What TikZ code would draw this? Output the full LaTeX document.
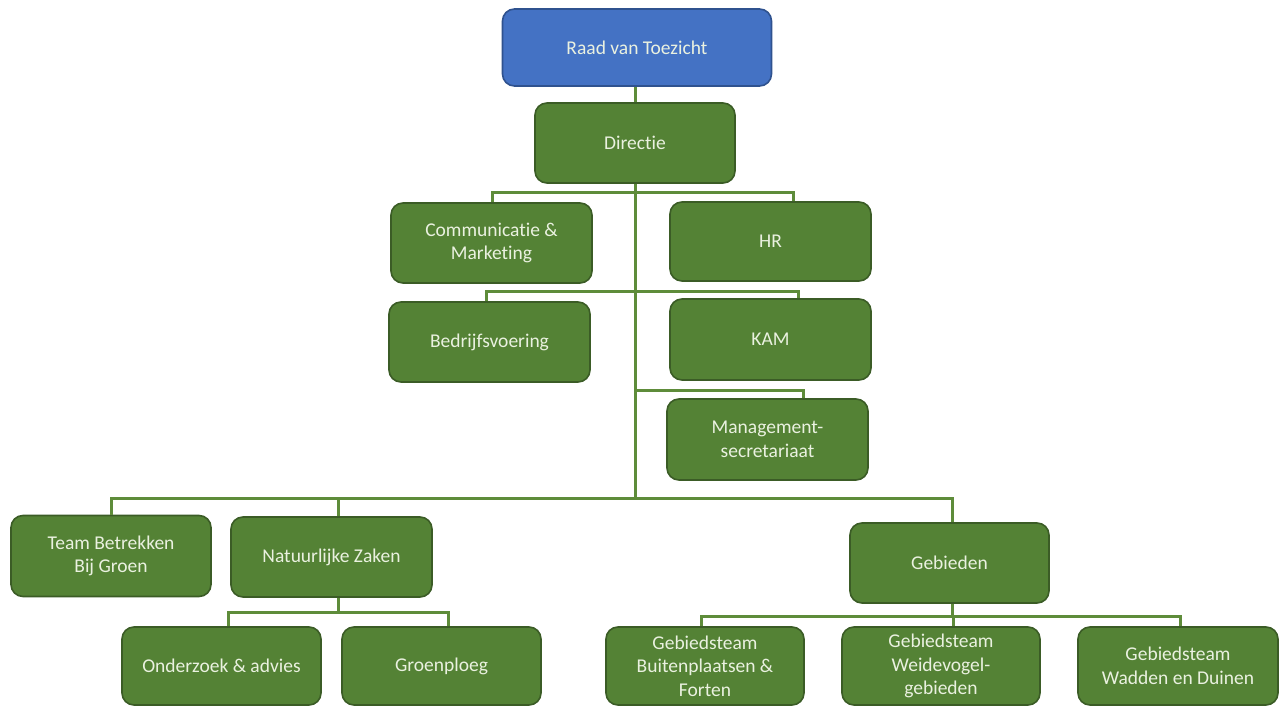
\documentclass[tikz,border=0pt]{standalone}
\usepackage{fontspec}
\setmainfont{Carlito}[Ligatures=NoCommon]
\definecolor{gfill}{HTML}{548235}
\definecolor{gborder}{HTML}{3B5C26}
\definecolor{bfill}{HTML}{4472C4}
\definecolor{bborder}{HTML}{2F528F}
\definecolor{gline}{HTML}{5E8C3A}
\definecolor{txt}{HTML}{EAF1E0}
\begin{document}
\begin{tikzpicture}[x=1pt,y=-1pt,
  box/.style={rounded corners=12pt, draw=gborder, fill=gfill, line width=1.6pt,
    text=txt, align=center, inner sep=0pt,
    font=\fontsize{19.5}{23.5}\selectfont},
  bluebox/.style={box, draw=bborder, fill=bfill},
  conn/.style={draw=gline, line width=3pt}]
\useasboundingbox[fill=white] (0,0) rectangle (1286,707);
% nodes
\node[bluebox, minimum width=269pt, minimum height=77pt] (raad) at (637,47.5) {Raad van Toezicht};
\node[box, minimum width=200pt, minimum height=80pt] (dir) at (635,143) {Directie};
\node[box, minimum width=201pt, minimum height=80pt] (comm) at (491.5,243) {Communicatie \&\\Marketing};
\node[box, minimum width=201pt, minimum height=79pt] (hr) at (770.5,241.5) {HR};
\node[box, minimum width=201pt, minimum height=80pt] (bedr) at (489.5,342) {Bedrijfsvoering};
\node[box, minimum width=201pt, minimum height=81pt] (kam) at (770.5,339.5) {KAM};
\node[box, minimum width=201pt, minimum height=81pt] (mgmt) at (767.5,439.5) {Management-\\secretariaat};
\node[box, minimum width=200pt, minimum height=81pt] (team) at (111,556) {Team Betrekken\\Bij Groen};
\node[box, minimum width=201pt, minimum height=80pt] (nz) at (331.5,557) {Natuurlijke Zaken};
\node[box, minimum width=199pt, minimum height=80pt] (geb) at (949.5,563) {Gebieden};
\node[box, minimum width=199pt, minimum height=78pt] (onz) at (221.5,666) {Onderzoek \& advies};
\node[box, minimum width=199pt, minimum height=78pt] (groen) at (441.5,666) {Groenploeg};
\node[box, minimum width=198pt, minimum height=78pt] (gb1) at (705,666) {Gebiedsteam\\Buitenplaatsen \&\\Forten};
\node[box, minimum width=198pt, minimum height=78pt] (gb2) at (941,666) {Gebiedsteam\\Weidevogel-\\gebieden};
\node[box, minimum width=200pt, minimum height=78pt] (gb3) at (1178,666) {Gebiedsteam\\Wadden en Duinen};
% junctions
\coordinate (b1) at (635,192);
\coordinate (b2) at (635,291);
\coordinate (b3) at (635,390);
\coordinate (b4) at (635,498);
\coordinate (b5) at (338,612.5);
\coordinate (b6) at (952,616);
% connectors
\draw[conn] (dir.north) -- (dir.north |- raad.south);
\draw[conn] (dir.south) -- (b4);
\draw[conn] ([xshift=0.5pt]comm.north) |- (b1) -| ([xshift=22.5pt]hr.north);
\draw[conn] ([xshift=-3.5pt]bedr.north) |- (b2) -| ([xshift=27.5pt]kam.north);
\draw[conn] (b3) -| ([xshift=35.5pt]mgmt.north);
\draw[conn] (team.north) |- (b4) -| ([xshift=2.5pt]geb.north);
\draw[conn] ([xshift=6.5pt]nz.north) -- ([xshift=6.5pt]nz.north |- b4);
\draw[conn] ([xshift=6.5pt]nz.south) -- (b5);
\draw[conn] ([xshift=6.5pt]onz.north) |- (b5) -| ([xshift=6.5pt]groen.north);
\draw[conn] ([xshift=2.5pt]geb.south) -- (b6);
\draw[conn] ([xshift=-4pt]gb1.north) |- (b6) -| ([xshift=2pt]gb3.north);
\draw[conn] ([xshift=12pt]gb2.north) -- ([xshift=12pt]gb2.north |- b6);
\end{tikzpicture}
\end{document}
